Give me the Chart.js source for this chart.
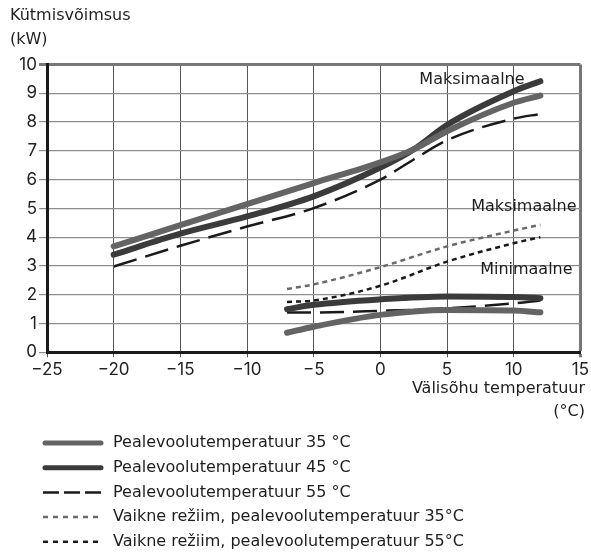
<!DOCTYPE html>
<html lang="et">
<head>
<meta charset="UTF-8">
<title>Kütmisvõimsus</title>
<script src="https://cdn.jsdelivr.net/npm/chart.js"></script>
<style>
  body { margin: 0; background: #fff; }
  canvas { display: block; }
</style>
</head>
<body>
<canvas id="chart" width="591" height="552"></canvas>
<script>
// values
const maxTemps = [-20, -15, -10, -5, 0, 2.5, 5, 10, 12];
const max35 = [3.68, 4.42, 5.15, 5.88, 6.6, 7.05, 7.68, 8.67, 8.92];
const max45 = [3.39, 4.12, 4.72, 5.42, 6.42, 7.05, 7.9, 9.07, 9.42];
const max55 = [2.98, 3.7, 4.37, 5.01, 6.0, 6.7, 7.37, 8.12, 8.28];

const minTemps = [-7, -5, 0, 5, 10, 12];
const min35 = [0.68, 0.89, 1.3, 1.47, 1.45, 1.39];
const min45 = [1.5, 1.65, 1.84, 1.94, 1.92, 1.88];
const min55 = [1.38, 1.38, 1.44, 1.53, 1.7, 1.8];
const quiet35 = [2.2, 2.36, 2.96, 3.68, 4.23, 4.43];
const quiet55 = [1.75, 1.8, 2.31, 3.15, 3.79, 4.0];

const legendNames = [
  'Pealevoolutemperatuur 35 °C',
  'Pealevoolutemperatuur 45 °C',
  'Pealevoolutemperatuur 55 °C',
  'Vaikne režiim, pealevoolutemperatuur 35°C',
  'Vaikne režiim, pealevoolutemperatuur 55°C'
];

// curve labels, anchored in data units
const noteTexts = ['Maksimaalne', 'Maksimaalne', 'Minimaalne'];
const noteX = [6.87, 10.76, 10.95];
const noteY = [9.48, 5.07, 2.86];

const FONT = '"DejaVu Sans", sans-serif';
const TICK_FONT = 'Inter, "Noto Sans", sans-serif';

const styles = [
  { color: '#646464', width: 6, dash: [], legendDash: [] },
  { color: '#3b3b3b', width: 6, dash: [], legendDash: [] },
  { color: '#1a1a1a', width: 2.5, dash: [24, 9], legendDash: [16, 5] },
  { color: '#6a6a6a', width: 2.5, dash: [5, 4], legendDash: [5, 5] },
  { color: '#1a1a1a', width: 2.5, dash: [5, 4], legendDash: [5, 5] }
];

function pts(xs, ys) {
  return xs.map((x, i) => ({ x: x, y: ys[i] }));
}

function ds(label, xs, ys, s) {
  return {
    label: label,
    data: pts(xs, ys),
    borderColor: s.color,
    borderWidth: s.width,
    borderDash: s.dash,
    borderCapStyle: s.dash.length ? 'butt' : 'round',
    pointRadius: 0,
    fill: false,
    cubicInterpolationMode: 'monotone'
  };
}

const datasets = [
  ds(legendNames[0], maxTemps, max35, styles[0]),
  ds(legendNames[0], minTemps, min35, styles[0]),
  ds(legendNames[1], maxTemps, max45, styles[1]),
  ds(legendNames[1], minTemps, min45, styles[1]),
  ds(legendNames[2], maxTemps, max55, styles[2]),
  ds(legendNames[2], minTemps, min55, styles[2]),
  ds(legendNames[3], minTemps, quiet35, styles[3]),
  ds(legendNames[4], minTemps, quiet55, styles[4])
];

const minus = v => (v < 0 ? '\u2212' + Math.abs(v) : '' + v);

// axis titles, notes and the legend
const extras = {
  id: 'extras',
  afterDraw(chart) {
    const ctx = chart.ctx;
    const xs = chart.scales.x, ys = chart.scales.y;
    ctx.save();
    ctx.fillStyle = '#1e1e1e';
    ctx.font = '16px ' + FONT;
    ctx.textBaseline = 'middle';
    ctx.textAlign = 'left';
    ctx.fillText('Kütmisvõimsus', 10, 16);
    ctx.fillText('(kW)', 10, 40);
    ctx.textAlign = 'right';
    ctx.fillText('Välisõhu temperatuur', 585, 389);
    ctx.fillText('(°C)', 585, 412);

    ctx.textAlign = 'center';
    noteTexts.forEach((t, i) => {
      ctx.fillText(t, xs.getPixelForValue(noteX[i]), ys.getPixelForValue(noteY[i]));
    });

    ctx.textAlign = 'left';
    legendNames.forEach((name, i) => {
      const y = 443 + i * 24.7;
      const s = styles[i];
      const thick = s.width === 6;
      ctx.beginPath();
      ctx.strokeStyle = s.color;
      ctx.lineWidth = thick ? 5 : 2.5;
      ctx.setLineDash(s.legendDash);
      ctx.lineCap = thick ? 'round' : 'butt';
      ctx.moveTo(thick ? 45 : 43, y);
      ctx.lineTo(thick ? 101 : 103, y);
      ctx.stroke();
      ctx.setLineDash([]);
      ctx.fillStyle = '#1e1e1e';
      ctx.fillText(name, 113, y);
    });
    ctx.restore();
  }
};

new Chart(document.getElementById('chart'), {
  type: 'line',
  data: { datasets: datasets },
  plugins: [extras],
  options: {
    responsive: false,
    animation: false,
    layout: { padding: { top: 64.5, right: 9.5, bottom: 169.7, left: 0 } },
    plugins: { legend: { display: false }, tooltip: { enabled: false } },
    scales: {
      x: {
        type: 'linear',
        min: -25,
        max: 15,
        afterFit: s => { s.height = 30; },
        ticks: {
          stepSize: 5,
          padding: 2,
          color: '#222',
          font: { family: TICK_FONT, size: 17 },
          callback: minus
        },
        grid: {
          tickLength: 5,
          color: c => (c.tick && c.tick.value === 15 ? '#777' : '#555'),
          lineWidth: c => (c.tick && c.tick.value === 15 ? 3 : 1)
        },
        border: { color: '#1a1a1a', width: 3 }
      },
      y: {
        min: 0,
        max: 10,
        afterFit: s => { s.width = 47; },
        ticks: {
          stepSize: 1,
          padding: 2,
          color: '#222',
          font: { family: TICK_FONT, size: 17 }
        },
        grid: {
          tickLength: 8,
          color: c => (c.tick && c.tick.value === 10 ? '#777' : '#8e8e8e'),
          lineWidth: c => (c.tick && c.tick.value === 10 ? 3 : 1.2)
        },
        border: { color: '#1a1a1a', width: 3 }
      }
    }
  }
});
</script>
</body>
</html>
